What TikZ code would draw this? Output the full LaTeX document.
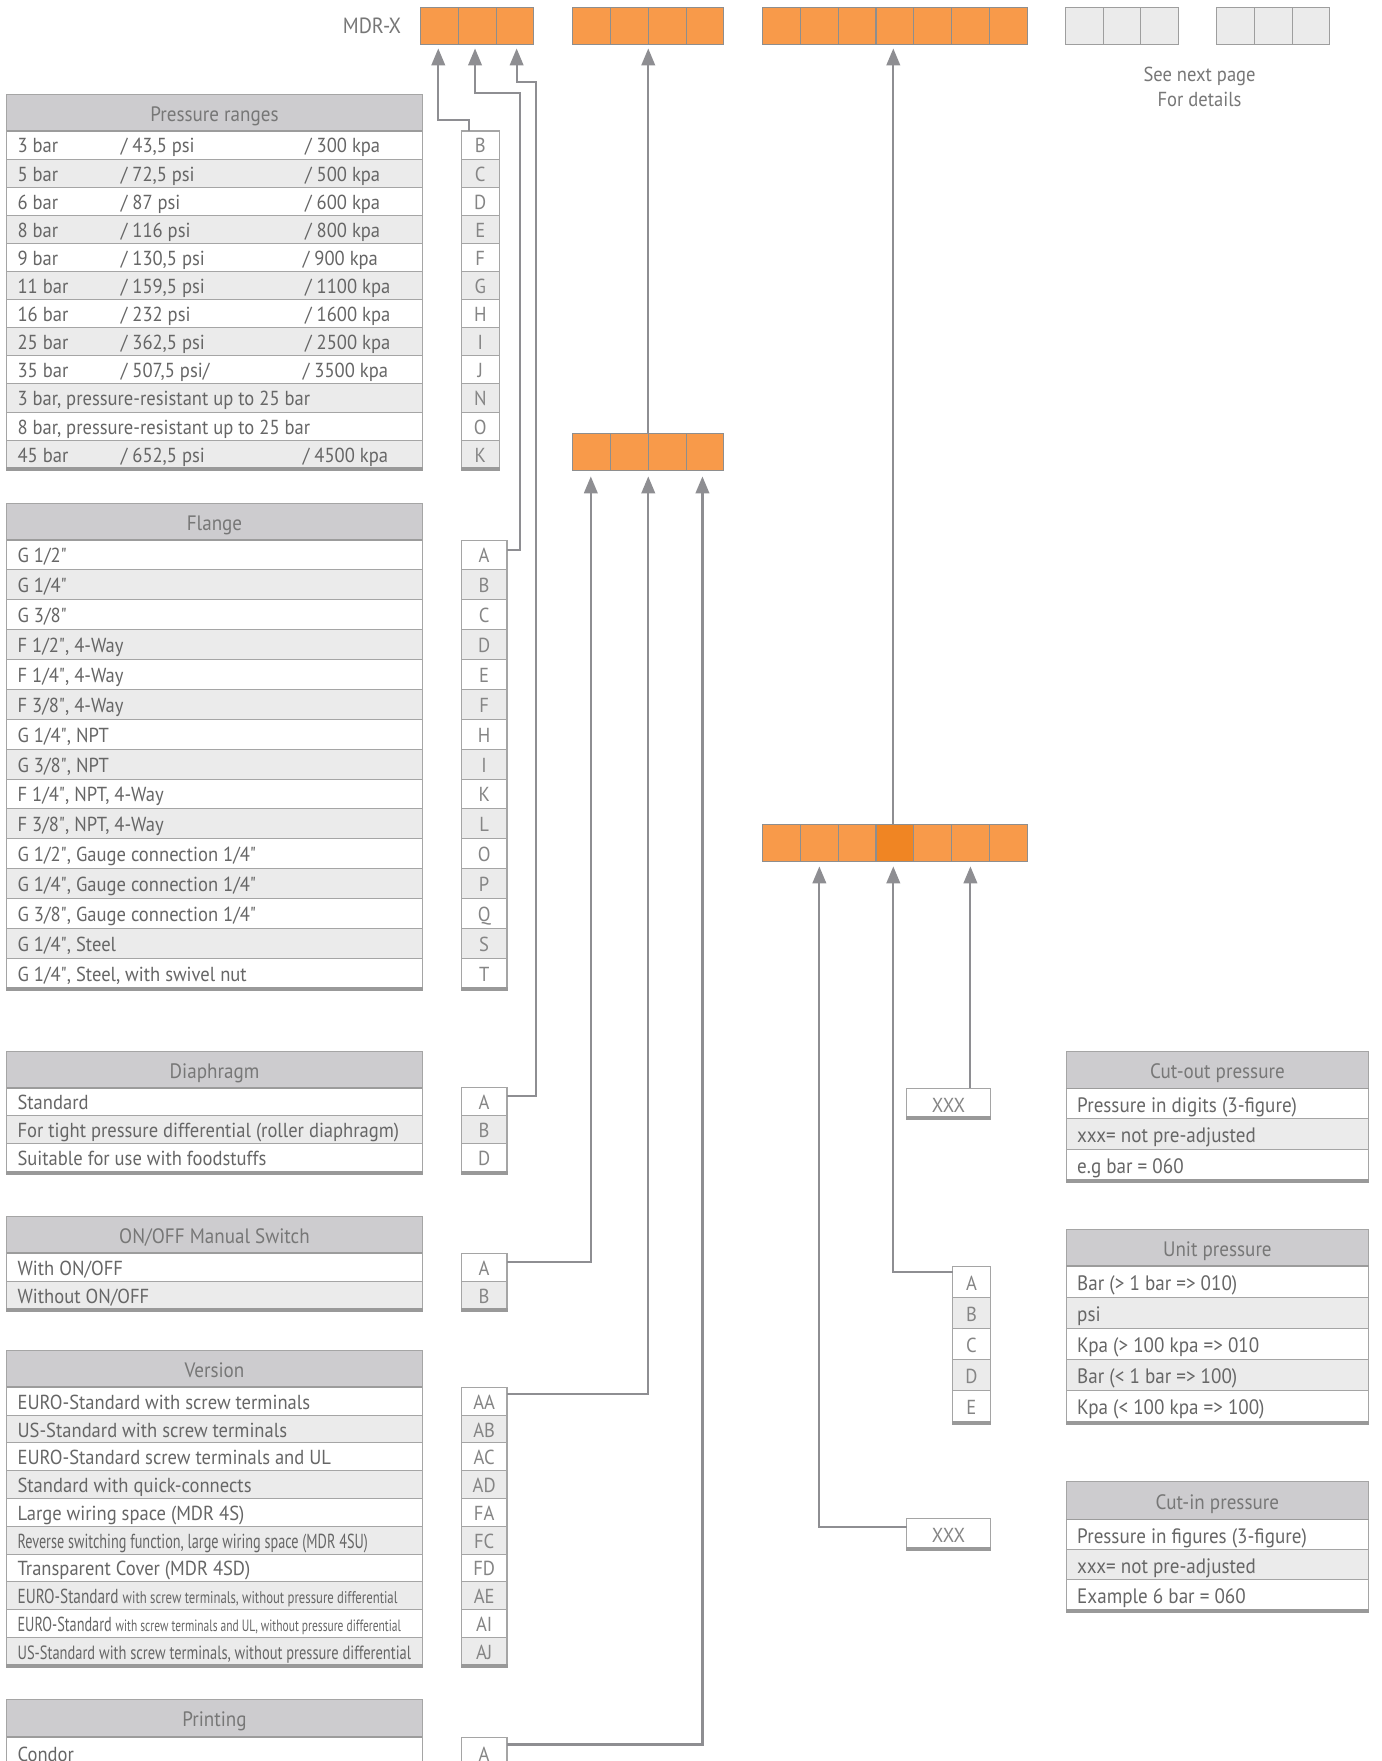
\documentclass[tikz,border=0pt]{standalone}
\usepackage{fontspec}
\usepackage{graphicx}
\setmainfont{PT Sans}[FakeStretch=0.915]
\newfontfamily\qfont{PT Sans}[FakeStretch=0.915]
\usetikzlibrary{arrows.meta,calc}
\definecolor{org}{HTML}{F89A4A}
\definecolor{orgd}{HTML}{F08523}
\definecolor{cellb}{HTML}{8E8E8E}
\definecolor{gcell}{HTML}{EBEBEB}
\definecolor{gcellb}{HTML}{9E9E9E}
\definecolor{hdrf}{HTML}{CDCCCF}
\definecolor{bord}{HTML}{A5A5A5}
\definecolor{hlinec}{HTML}{9C9C9C}
\definecolor{thickc}{HTML}{999999}
\definecolor{txt}{HTML}{666666}
\definecolor{htxtc}{HTML}{777777}
\definecolor{ctxtc}{HTML}{858585}
\definecolor{connc}{HTML}{8E8E92}
\newcommand\myrowfont{\fontsize{18}{21}\selectfont}
\newcommand\myrfont{\fontsize{18.5}{21}\selectfont}
\newcommand\myhfont{\fontsize{18.5}{21}\selectfont}
\newcommand\Thick[3]{\fill[thickc] ({#1-0.45},{#3-1}) rectangle ({#2+0.45},{#3+2.6});}
\protected\def\dq{{\qfont"}}
\protected\def\vFC{\resizebox{310.7pt}{\height}{Reverse switching function, large wiring space (MDR 4SU)}}
\protected\def\vAE{\resizebox{337pt}{\height}{EURO-Standard {\fontsize{15}{17}\selectfont with screw terminals, without pressure differential}}}
\protected\def\vAI{\resizebox{340pt}{\height}{EURO-Standard {\fontsize{14.5}{17}\selectfont with screw terminals and UL, without pressure differential}}}
\protected\def\vAJ{\resizebox{349pt}{\height}{\fontsize{17}{19}\selectfont US-Standard with screw terminals, without pressure differential}}
\tikzset{
 ocell/.style={draw=cellb, fill=org, line width=0.9pt, minimum width=33.5pt, minimum height=33pt, inner sep=0pt, outer sep=0pt, anchor=north west},
 gbox/.style={ocell, fill=gcell, draw=gcellb},
 hdr/.style={draw=bord, fill=hdrf, line width=0.9pt, minimum height=32.5pt, inner sep=0pt, outer sep=0pt, anchor=north west},
 lrow/.style={draw=bord, line width=0.9pt, minimum width=368.7pt, inner sep=0pt, outer sep=0pt, anchor=north west},
 rrow/.style={lrow, minimum width=268.4pt},
 crow/.style={draw=bord, line width=0.9pt, inner sep=0pt, outer sep=0pt, anchor=north west},
 ltxt/.style={anchor=base west, inner sep=0pt, text=txt, font=\myrowfont},
 rtxt/.style={anchor=base west, inner sep=0pt, text=txt, font=\myrfont},
 ctxt/.style={anchor=base, inner sep=0pt, text=ctxtc, font=\myrowfont},
 htxt/.style={anchor=base, inner sep=0pt, text=htxtc, font=\myhfont},
 hline/.style={draw=hlinec, line width=1.6pt},
 conn/.style={draw=connc, line width=1.9pt},
 arr/.style={conn, -{Triangle[length=15pt,width=12pt]}},
}
\begin{document}
\begin{tikzpicture}[x=1pt,y=-1pt]
\useasboundingbox (0,0) rectangle (1225,1562);
\clip (0,0) rectangle (1225,1562);
\fill[white] (0,0) rectangle (1225,1562);
% ---------- top code boxes
\node[anchor=base east, inner sep=0pt, text=htxtc, font=\fontsize{19.5}{22}\selectfont] (mdr) at (356,30) {MDR-X};
\foreach \k/\n in {0/a,1/b,2/c}{\node[ocell] (g1\n) at ({373+\k*33.5},6.5) {};}
\foreach \k/\n in {0/a,1/b,2/c,3/d}{\node[ocell] (g2\n) at ({508+\k*33.5},6.5) {};}
\foreach \k/\n in {0/a,1/b,2/c,3/d,4/e,5/f,6/g}{\node[ocell] (g3\n) at ({676.5+\k*33.5},6.5) {};}
\foreach \k/\n in {0/a,1/b,2/c}{\node[gbox] (g4\n) at ({945+\k*33.5},6.5) {};}
\foreach \k/\n in {0/a,1/b,2/c}{\node[gbox] (g5\n) at ({1079+\k*33.5},6.5) {};}
\node[anchor=base, inner sep=0pt, text=htxtc, font=\fontsize{18}{20}\selectfont] (see1) at (1064,72.5) {See next page};
\node[anchor=base, inner sep=0pt, text=htxtc, font=\fontsize{18}{20}\selectfont] (see2) at (1064,94.6) {For details};
% ---------- middle boxes
\foreach \k/\n in {0/a,1/b,2/c,3/d}{\node[ocell] (m2\n) at ({508+\k*33.5},384.6) {};}
\foreach \k/\n/\f in {0/a/org,1/b/org,2/c/org,3/d/orgd,4/e/org,5/f/org,6/g/org}{\node[ocell,fill=\f] (m3\n) at ({676.5+\k*33.5},731) {};}
% ---------- Pressure ranges
\node[hdr,minimum width=368.7pt] (hpr) at (5.9,83.7) {};
\node[htxt] at (190.25,107.7) {Pressure ranges};
\foreach \a/\b/\c/\cx/\cd [count=\i from 0] in {
 {3 bar}/{/ 43,5 psi}/{/ 300 kpa}/270.5/B,
 {5 bar}/{/ 72,5 psi}/{/ 500 kpa}/270.5/C,
 {6 bar}/{/ 87 psi}/{/ 600 kpa}/270.5/D,
 {8 bar}/{/ 116 psi}/{/ 800 kpa}/270.5/E,
 {9 bar}/{/ 130,5 psi}/{/ 900 kpa}/268.5/F,
 {11 bar}/{/ 159,5 psi}/{/ 1100 kpa}/270.5/G,
 {16 bar}/{/ 232 psi}/{/ 1600 kpa}/270.5/H,
 {25 bar}/{/ 362,5 psi}/{/ 2500 kpa}/270.5/I,
 {35 bar}/{/ 507,5 psi/}/{/ 3500 kpa}/268.5/J,
 {3 bar, pressure-resistant up to 25 bar}/{}/{}/270.5/N,
 {8 bar, pressure-resistant up to 25 bar}/{}/{}/270.5/O,
 {45 bar}/{/ 652,5 psi}/{/ 4500 kpa}/268.5/K}{
 \pgfmathsetmacro\ty{116.2+\i*24.93}
 \ifodd\i \def\fc{gcell}\else\def\fc{white}\fi
 \node[lrow,fill=\fc,minimum height=24.93pt] (prr\cd) at (5.9,\ty) {};
 \node[ltxt] at (15.4,\ty+19.5) {\a};
 \node[ltxt] at (107,\ty+19.5) {\b};
 \node[ltxt] at (\cx,\ty+19.5) {\c};
 \node[crow,fill=\fc,minimum width=34pt,minimum height=24.93pt] (pr\cd) at (409,\ty) {};
 \node[ctxt] at (426,\ty+19.5) {\cd};
}
\draw[hline] (hpr.south west) -- (hpr.south east);
\Thick{5.9}{374.6}{415.4}
\Thick{409}{443}{415.4}
% ---------- Flange
\node[hdr,minimum width=368.7pt] (hfl) at (5.9,446.5) {};
\node[htxt] at (190.25,470.5) {Flange};
\foreach \t/\cd [count=\i from 0] in {
 {G 1/2\dq}/A, {G 1/4\dq}/B, {G 3/8\dq}/C, {F 1/2\dq, 4-Way}/D, {F 1/4\dq, 4-Way}/E,
 {F 3/8\dq, 4-Way}/F, {G 1/4\dq, NPT}/H, {G 3/8\dq, NPT}/I, {F 1/4\dq, NPT, 4-Way}/K,
 {F 3/8\dq, NPT, 4-Way}/L, {G 1/2\dq, Gauge connection 1/4\dq}/O, {G 1/4\dq, Gauge connection 1/4\dq}/P,
 {G 3/8\dq, Gauge connection 1/4\dq}/Q, {G 1/4\dq, Steel}/S, {G 1/4\dq, Steel, with swivel nut}/T}{
 \pgfmathsetmacro\ty{479+\i*26.5}
 \ifodd\i \def\fc{gcell}\else\def\fc{white}\fi
 \node[lrow,fill=\fc,minimum height=26.5pt] (flr\cd) at (5.9,\ty) {};
 \node[ltxt] at (15.4,\ty+20.3) {\t};
 \node[crow,fill=\fc,minimum width=40.5pt,minimum height=26.5pt] (fl\cd) at (409.2,\ty) {};
 \node[ctxt] at (429.45,\ty+20.3) {\cd};
}
\draw[hline] (hfl.south west) -- (hfl.south east);
\Thick{5.9}{374.6}{876.5}
\Thick{409.2}{449.7}{876.5}
% ---------- Diaphragm
\node[hdr,minimum width=368.7pt] (hdp) at (5.9,932.3) {};
\node[htxt] at (190.25,956.3) {Diaphragm};
\foreach \t/\cd [count=\i from 0] in {
 {Standard}/A, {For tight pressure differential (roller diaphragm)}/B, {Suitable for use with foodstuffs}/D}{
 \pgfmathsetmacro\ty{964.8+\i*24.85}
 \ifodd\i \def\fc{gcell}\else\def\fc{white}\fi
 \node[lrow,fill=\fc,minimum height=24.85pt] (dpr\cd) at (5.9,\ty) {};
 \node[ltxt] at (15.4,\ty+19.5) {\t};
 \node[crow,fill=\fc,minimum width=40.5pt,minimum height=24.85pt] (dp\cd) at (409.2,\ty) {};
 \node[ctxt] at (429.45,\ty+19.5) {\cd};
}
\draw[hline] (hdp.south west) -- (hdp.south east);
\Thick{5.9}{374.6}{1039.35}
\Thick{409.2}{449.7}{1039.35}
% ---------- ON/OFF
\node[hdr,minimum width=368.7pt] (hof) at (5.9,1079.2) {};
\node[htxt] at (190.25,1103.2) {ON/OFF Manual Switch};
\foreach \t/\cd [count=\i from 0] in {{With ON/OFF}/A, {Without ON/OFF}/B}{
 \pgfmathsetmacro\ty{1111.7+\i*24.9}
 \ifodd\i \def\fc{gcell}\else\def\fc{white}\fi
 \node[lrow,fill=\fc,minimum height=24.9pt] (ofr\cd) at (5.9,\ty) {};
 \node[ltxt] at (15.4,\ty+19.5) {\t};
 \node[crow,fill=\fc,minimum width=40.5pt,minimum height=24.9pt] (of\cd) at (409.2,\ty) {};
 \node[ctxt] at (429.45,\ty+19.5) {\cd};
}
\draw[hline] (hof.south west) -- (hof.south east);
\Thick{5.9}{374.6}{1161.5}
\Thick{409.2}{449.7}{1161.5}
% ---------- Version
\node[hdr,minimum width=368.7pt] (hvr) at (5.9,1198.1) {};
\node[htxt] at (190.25,1222.1) {Version};
\foreach \t/\cd [count=\i from 0] in {
 {EURO-Standard with screw terminals}/AA, {US-Standard with screw terminals}/AB,
 {EURO-Standard screw terminals and UL}/AC, {Standard with quick-connects}/AD,
 {Large wiring space (MDR 4S)}/FA, {\vFC}/FC, {Transparent Cover (MDR 4SD)}/FD,
 {\vAE}/AE, {\vAI}/AI, {\vAJ}/AJ}{
 \pgfmathsetmacro\ty{1230.6+\i*24.64}
 \ifodd\i \def\fc{gcell}\else\def\fc{white}\fi
 \node[lrow,fill=\fc,minimum height=24.64pt] (vrr\cd) at (5.9,\ty) {};
 \node[ltxt] at (15.4,\ty+19.4) {\t};
 \node[crow,fill=\fc,minimum width=40.5pt,minimum height=24.64pt] (vr\cd) at (409.2,\ty) {};
 \node[ctxt] at (429.45,\ty+19.4) {\cd};
}
\draw[hline] (hvr.south west) -- (hvr.south east);
\Thick{5.9}{374.6}{1477}
\Thick{409.2}{449.7}{1477}
% ---------- Printing
\node[hdr,minimum width=368.7pt,minimum height=33pt] (hpt) at (5.9,1507.4) {};
\node[htxt] at (190.25,1531.6) {Printing};
\node[lrow,fill=white,minimum height=24.9pt] (ptrA) at (5.9,1541) {};
\node[ltxt] at (15.4,1562) {Condor};
\node[crow,fill=white,minimum width=40.5pt,minimum height=24.9pt] (ptA) at (409.2,1541.5) {};
\node[ctxt] at (429.45,1562) {A};
\draw[hline] (hpt.south west) -- (hpt.south east);
% ---------- Cut-out pressure
\node[hdr,minimum width=268.4pt,minimum height=33.1pt] (hco) at (945.6,932.3) {};
\node[htxt] at (1079.8,956.5) {Cut-out pressure};
\foreach \t [count=\i from 0] in {{Pressure in digits (3-figure)}, {xxx= not pre-adjusted}, {e.g bar = 060}}{
 \pgfmathsetmacro\ty{965.4+\i*27.1}
 \ifodd\i \def\fc{gcell}\else\def\fc{white}\fi
 \node[rrow,fill=\fc,minimum height=27.1pt] (cor\i) at (945.6,\ty) {};
 \node[rtxt] at (955.3,\ty+21.2) {\t};
}
\draw[hline] (hco.south west) -- (hco.south east);
\Thick{945.6}{1214}{1046.7}
\node[crow,fill=white,minimum width=74pt,minimum height=25.7pt] (xout) at (804.3,965.4) {};
\node[ctxt] at (841.3,986.6) {XXX};
\Thick{804.3}{878.3}{991.1}
% ---------- Unit pressure
\node[hdr,minimum width=268.4pt] (hup) at (945.6,1090.5) {};
\node[htxt] at (1079.8,1114.5) {Unit pressure};
\foreach \t/\cd [count=\i from 0] in {{Bar (> 1 bar => 010)}/A, {psi}/B, {Kpa (> 100 kpa => 010}/C, {Bar (< 1 bar => 100)}/D, {Kpa (< 100 kpa => 100)}/E}{
 \pgfmathsetmacro\ty{1123+\i*27.62}
 \ifodd\i \def\fc{gcell}\else\def\fc{white}\fi
 \node[rrow,fill=\fc,minimum height=27.62pt] (upr\cd) at (945.6,\ty) {};
 \node[rtxt] at (955.3,\ty+21.3) {\t};
 \node[crow,fill=\fc,minimum width=33.3pt,minimum height=27.62pt] (up\cd) at (845,\ty) {};
 \node[ctxt] at (861.65,\ty+21.3) {\cd};
}
\draw[hline] (hup.south west) -- (hup.south east);
\Thick{945.6}{1214}{1261.1}
\Thick{845}{878.3}{1261.1}
% ---------- Cut-in pressure
\node[hdr,minimum width=268.4pt,minimum height=33.4pt] (hci) at (945.6,1314.3) {};
\node[htxt] at (1079.8,1338.6) {Cut-in pressure};
\foreach \t [count=\i from 0] in {{Pressure in figures (3-figure)}, {xxx= not pre-adjusted}, {Example 6 bar = 060}}{
 \pgfmathsetmacro\ty{1347.7+\i*26.8}
 \ifodd\i \def\fc{gcell}\else\def\fc{white}\fi
 \node[rrow,fill=\fc,minimum height=26.8pt] (cir\i) at (945.6,\ty) {};
 \node[rtxt] at (955.3,\ty+21) {\t};
}
\draw[hline] (hci.south west) -- (hci.south east);
\Thick{945.6}{1214}{1428.1}
\node[crow,fill=white,minimum width=74pt,minimum height=26.6pt] (xin) at (804.3,1346.8) {};
\node[ctxt] at (841.3,1368.4) {XXX};
\Thick{804.3}{878.3}{1373.4}
% ---------- connectors
\draw[arr] ([xshift=-10pt]prB.north) -- ++(0,-9.7) -| ([xshift=-1pt,yshift=-3.5pt]g1a.south);
\draw[arr] ([yshift=-9pt]flA.north east) -| (461.3,82.8) -| ([xshift=-1.9pt,yshift=-3.5pt]g1b.south);
\draw[arr] ([yshift=-7.2pt]dpA.north east) -| (475.3,72.5) -| ([xshift=1.5pt,yshift=-3.5pt]g1c.south);
\draw[arr] ([yshift=-7.3pt]ofA.north east) -| ([xshift=-0.7pt,yshift=-5pt]m2a.south);
\draw[arr] ([yshift=-5.9pt]vrAA.north east) -| ([yshift=-5pt]m2b.south east);
\draw[arr] ([yshift=-5.8pt]ptA.north east) -| ([xshift=-2.2pt,yshift=-5pt]m2d.south);
\draw[arr] (m2b.north east) -- ([yshift=-3.5pt]g2b.south east);
\draw[arr] ([xshift=-1.4pt]m3d.north) -- ([xshift=-1.4pt,yshift=-3.5pt]g3d.south);
\draw[arr] ([yshift=-7.4pt]xin.north west) -| ([yshift=-4.5pt]m3b.south);
\draw[arr] ([yshift=-5pt]upA.north west) -| ([xshift=-1.4pt,yshift=-4.5pt]m3d.south);
\draw[arr] (xout.north -| m3f.south) -- ([yshift=-4.5pt]m3f.south);
\end{tikzpicture}
\end{document}
